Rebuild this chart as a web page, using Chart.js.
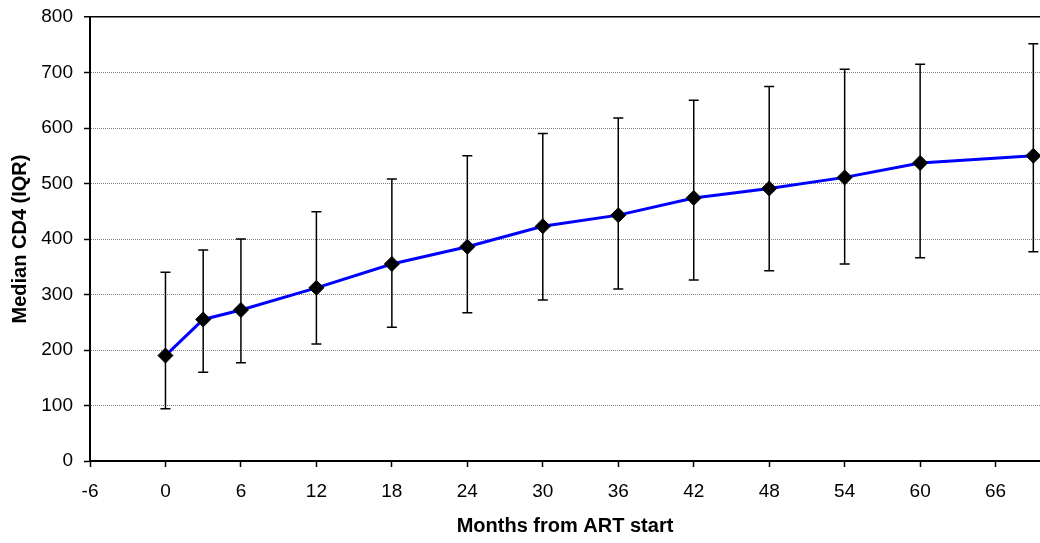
<!DOCTYPE html>
<html>
<head>
<meta charset="utf-8">
<title>Median CD4</title>
<script src="https://cdn.jsdelivr.net/npm/chart.js@4.4.1/dist/chart.umd.min.js"></script>
<style>
  body { margin: 0; background: #fff; }
  #wrap { width: 1040px; height: 543px; position: relative; }
</style>
</head>
<body>
<div id="wrap"><canvas id="cd4"></canvas></div>
<script>
// months from ART start
var months = [0, 3, 6, 12, 18, 24, 30, 36, 42, 48, 54, 60, 69];
// median CD4 and the IQR
var median = [190, 255, 272, 312, 355, 386, 423, 443, 474, 491, 511, 537, 550];
var q1 = [94, 160, 177, 211, 241, 267, 290, 310, 326, 343, 355, 366, 377];
var q3 = [340, 380, 400, 449, 508, 550, 590, 618, 650, 675, 706, 715, 752];

var fontFamily = "'Liberation Sans', Arial, sans-serif";

// IQR whiskers
var errorBars = {
    id: "errorBars",
    beforeDatasetsDraw: function (chart) {
        var ctx = chart.ctx;
        var xs = chart.scales.x, ys = chart.scales.y;
        var area = chart.chartArea;
        ctx.save();
        ctx.beginPath();
        ctx.rect(area.left, area.top - 2, area.right - area.left, area.bottom - area.top + 4);
        ctx.clip();
        ctx.strokeStyle = "#000";
        ctx.lineWidth = 1.5;
        for (var i = 0; i < months.length; i++) {
            var x = xs.getPixelForValue(months[i]);
            var yLo = ys.getPixelForValue(q1[i]);
            var yHi = ys.getPixelForValue(q3[i]);
            ctx.beginPath();
            ctx.moveTo(x, yLo);
            ctx.lineTo(x, yHi);
            ctx.moveTo(x - 5, yLo);
            ctx.lineTo(x + 5, yLo);
            ctx.moveTo(x - 5, yHi);
            ctx.lineTo(x + 5, yHi);
            ctx.stroke();
        }
        ctx.restore();
    }
};

var points = months.map(function (m, i) { return { x: m, y: median[i] }; });

new Chart(document.getElementById("cd4").getContext("2d"), {
    type: "line",
    data: {
        datasets: [{
            data: points,
            borderColor: "#0000ff",
            borderWidth: 3,
            tension: 0,
            pointStyle: "rectRot",
            pointRadius: 7.5,
            pointBackgroundColor: "#000",
            pointBorderColor: "#000",
            pointBorderWidth: 1,
            clip: 4
        }]
    },
    plugins: [errorBars],
    options: {
        responsive: true,
        maintainAspectRatio: false,
        animation: false,
        events: [],
        layout: { autoPadding: false, padding: { top: 17, right: 0, left: 0, bottom: 0 } },
        plugins: { legend: { display: false }, tooltip: { enabled: false } },
        scales: {
            x: {
                type: "linear",
                min: -6,
                max: 69.53,
                afterFit: function (s) { s.height = 82; },
                afterBuildTicks: function (s) {
                    s.ticks = s.ticks.filter(function (t) { return t.value % 6 === 0; });
                },
                ticks: {
                    stepSize: 6,
                    includeBounds: false,
                    color: "#000",
                    padding: 13,
                    maxRotation: 0,
                    font: { family: fontFamily, size: 19 }
                },
                grid: {
                    drawOnChartArea: false,
                    drawTicks: true,
                    tickLength: 6,
                    tickColor: "#000",
                    tickWidth: 1.5
                },
                border: { color: "#000", width: 2 },
                title: {
                    display: true,
                    text: "Months from ART start",
                    color: "#000",
                    padding: { top: 0, bottom: 5 },
                    font: { family: fontFamily, size: 20, weight: "bold" }
                }
            },
            y: {
                min: 0,
                max: 800,
                afterFit: function (s) {
                    s.width = 90;
                    s.paddingTop = 0;
                    s.paddingBottom = 0;
                },
                ticks: {
                    stepSize: 100,
                    color: "#000",
                    padding: 11,
                    font: { family: fontFamily, size: 19 }
                },
                grid: {
                    color: function (c) { return c.tick && c.tick.value === 800 ? "#000" : "#808080"; },
                    lineWidth: function (c) { return c.tick && c.tick.value === 800 ? 1.5 : 1; },
                    drawTicks: true,
                    tickLength: 6,
                    tickColor: "#000",
                    tickWidth: 1.5,
                    tickBorderDash: []
                },
                border: {
                    color: "#000",
                    width: 2,
                    dash: function (c) {
                        return c.tick && c.tick.value > 0 && c.tick.value < 800 ? [1, 1] : [];
                    }
                },
                title: {
                    display: true,
                    text: "Median CD4 (IQR)",
                    color: "#000",
                    padding: { top: 8, bottom: 0 },
                    font: { family: fontFamily, size: 20, weight: "bold" }
                }
            }
        }
    }
});
</script>
</body>
</html>
